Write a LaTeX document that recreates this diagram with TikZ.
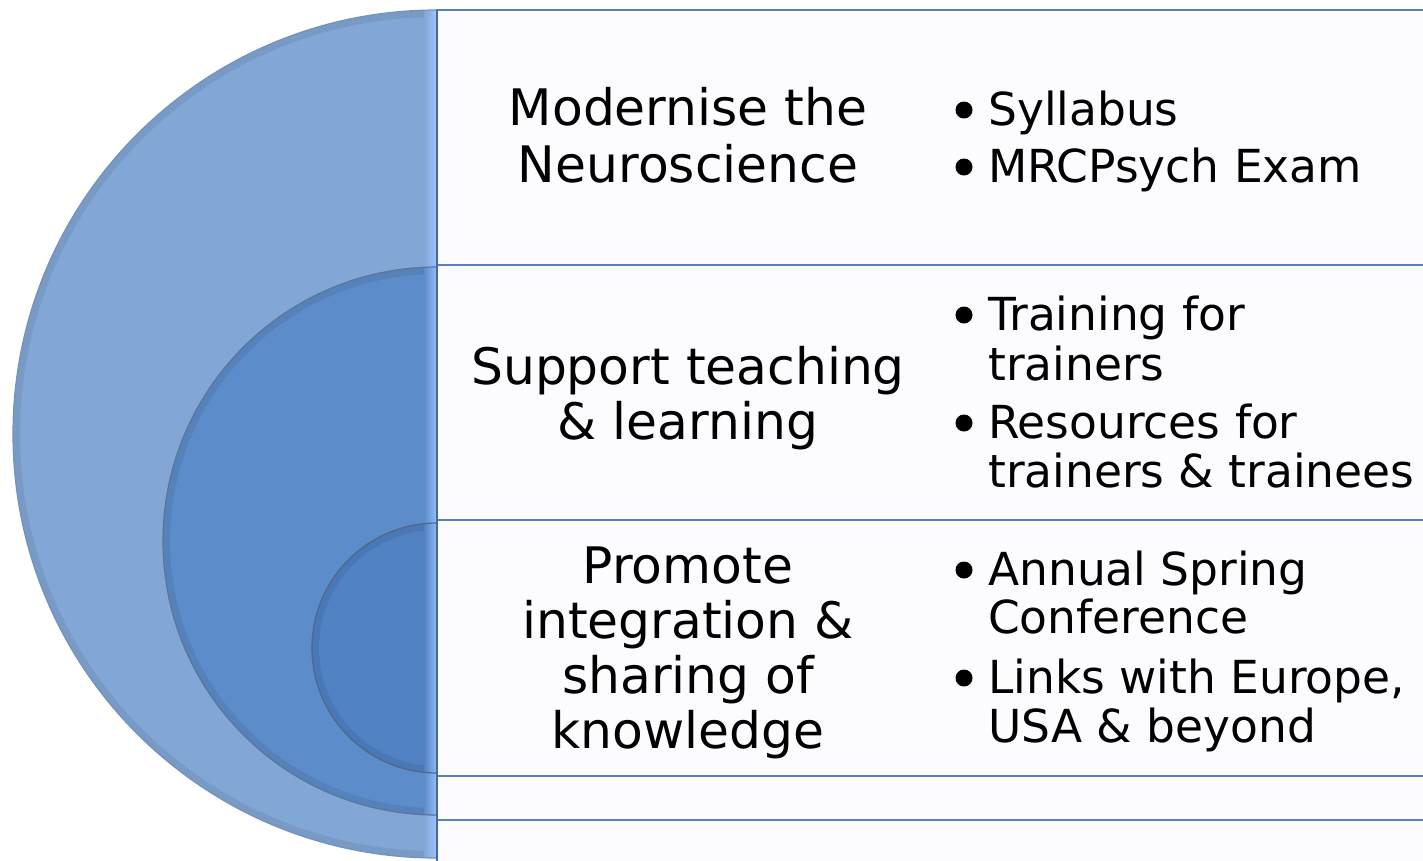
\documentclass[tikz,border=0pt]{standalone}
\usepackage{fontspec}
\setmainfont{DejaVu Sans}
\definecolor{discA}{HTML}{82A6D5}
\definecolor{discB}{HTML}{5C8CC9}
\definecolor{discC}{HTML}{5082C4}
\definecolor{discEdge}{HTML}{7393BE}
\definecolor{glow}{HTML}{9EC4FF}
\definecolor{boxfill}{HTML}{FCFBFE}
\definecolor{boxline}{HTML}{5680BF}
\definecolor{vline}{HTML}{46689A}
\begin{document}
\begin{tikzpicture}[x=1pt,y=-1pt,
  disc/.style={draw=discEdge, line width=1.2pt},
  bevel/.style={line width=14pt, draw=black, draw opacity=0.07},
  rowbox/.style={fill=boxfill, draw=boxline, line width=2pt},
  ltxt/.style={inner sep=0pt, anchor=base, font=\fontsize{50.3}{55}\selectfont},
  rtxt/.style={inner sep=0pt, anchor=base west, font=\fontsize{45.5}{50}\selectfont},
  dot/.style={circle, fill=black, inner sep=0pt, minimum size=17pt}]
\useasboundingbox (0,0) rectangle (1423,860);
\fill[white] (0,0) rectangle (1423,860);

% row boxes
\draw[rowbox] (437,10) rectangle (1440,265);
\draw[rowbox] (437,265) rectangle (1440,520);
\draw[rowbox] (437,520) rectangle (1440,776);
\draw[rowbox] (437,776) rectangle (1440,820);
\draw[rowbox] (437,820) rectangle (1440,875);

% large half disc
\coordinate (Abot) at (437,858);
\coordinate (Atop) at (437,10);
\fill[discA] (Abot) arc[start angle=270, end angle=90, radius=424pt] -- cycle;
\begin{scope}
  \clip (Abot) arc[start angle=270, end angle=90, radius=424pt] -- cycle;
  \draw[bevel] (Abot) arc[start angle=270, end angle=90, radius=424pt];
  \shade[left color=discA, right color=glow] (424,0) rectangle (437,860);
\end{scope}
\draw[disc] (Abot) arc[start angle=270, end angle=90, radius=424pt];

% middle half disc
\coordinate (Bbot) at (437,815);
\coordinate (Btop) at (437,267);
\fill[discB] (Bbot) arc[start angle=270, end angle=90, radius=274pt] -- cycle;
\begin{scope}
  \clip (Bbot) arc[start angle=270, end angle=90, radius=274pt] -- cycle;
  \draw[bevel] (Bbot) arc[start angle=270, end angle=90, radius=274pt];
  \shade[left color=discB, right color=glow!90!discB] (424,0) rectangle (437,860);
\end{scope}
\draw[disc, draw=discEdge!80!black] (Bbot) arc[start angle=270, end angle=90, radius=274pt];

% small half disc
\coordinate (Cbot) at (437,773);
\coordinate (Ctop) at (437,523);
\fill[discC] (Cbot) arc[start angle=270, end angle=90, radius=125pt] -- cycle;
\begin{scope}
  \clip (Cbot) arc[start angle=270, end angle=90, radius=125pt] -- cycle;
  \draw[bevel] (Cbot) arc[start angle=270, end angle=90, radius=125pt];
  \shade[left color=discC, right color=glow!85!discC] (424,0) rectangle (437,860);
\end{scope}
\draw[disc, draw=discEdge!70!black] (Cbot) arc[start angle=270, end angle=90, radius=125pt];

% vertical separator
\coordinate (vtop) at (437,10);
\coordinate (vbot) at (437,860);
\draw[vline, line width=2pt] (vtop) -- (vbot);

% left column text
\node[ltxt] (m1) at (688,125) {Modernise the};
\node[ltxt] (m2) at (688,182) {Neuroscience};
\node[ltxt] (s1) at (688,384) {Support teaching};
\node[ltxt] (s2) at (688,439) {\& learning};
\node[ltxt] (p1) at (688,583) {Promote};
\node[ltxt] (p2) at (688,638) {integration \&};
\node[ltxt] (p3) at (688,693) {sharing of};
\node[ltxt] (p4) at (688,748) {knowledge};

% right column bullets
\node[dot] (b1) at (964,110) {};
\node[rtxt] (r1) at (988,125) {Syllabus};
\node[dot] (b2) at (964,167) {};
\node[rtxt] (r2) at (988,182) {MRCPsych Exam};

\node[dot] (b3) at (964,315) {};
\node[rtxt] (r3a) at (988,330) {Training for};
\node[rtxt] (r3b) at (988,380) {trainers};
\node[dot] (b4) at (964,423) {};
\node[rtxt] (r4a) at (988,438) {Resources for};
\node[rtxt] (r4b) at (988,487) {trainers \& trainees};

\node[dot] (b5) at (964,570) {};
\node[rtxt] (r5a) at (988,585) {Annual Spring};
\node[rtxt] (r5b) at (988,633) {Conference};
\node[dot] (b6) at (964,678) {};
\node[rtxt] (r6a) at (988,693) {Links with Europe,};
\node[rtxt] (r6b) at (988,742) {USA \& beyond};
\end{tikzpicture}
\end{document}
